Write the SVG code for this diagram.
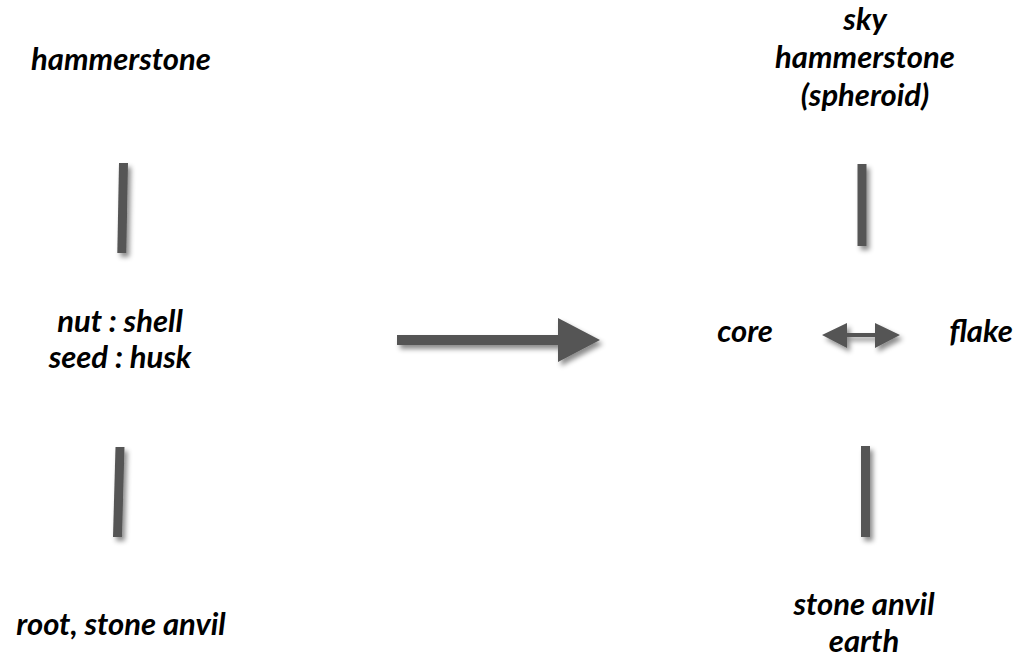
<svg xmlns="http://www.w3.org/2000/svg" width="1023" height="662" viewBox="0 0 1023 662">
  <style>
    .lbl { font-family: Lato, "Open Sans", "Liberation Sans", sans-serif; font-weight: bold; font-style: italic; font-size: 31px; fill: #000; text-anchor: middle; }
    .bar { stroke: #555555; stroke-width: 9; fill: none; }
    .shape { fill: #555555; }
  </style>
  <defs>
    <filter id="sh" x="-50%" y="-50%" width="200%" height="200%">
      <feDropShadow dx="3" dy="4" stdDeviation="2.5" flood-color="#000" flood-opacity="0.45"/>
    </filter>
  </defs>
  <rect width="1023" height="662" fill="#fff"/>

  <g id="node-hammerstone-left">
    <text class="lbl" x="121" y="70">hammerstone</text>
  </g>
  <g id="node-nut-shell">
    <text class="lbl" x="120" y="332">nut : shell</text>
    <text class="lbl" x="120" y="368">seed : husk</text>
  </g>
  <g id="node-root-anvil">
    <text class="lbl" x="121" y="635">root, stone anvil</text>
  </g>
  <g id="node-sky-hammerstone">
    <text class="lbl" x="865" y="30">sky</text>
    <text class="lbl" x="865" y="68">hammerstone</text>
    <text class="lbl" x="865" y="106">(spheroid)</text>
  </g>
  <g id="node-core">
    <text class="lbl" x="745" y="342">core</text>
  </g>
  <g id="node-flake">
    <text class="lbl" x="981" y="342">flake</text>
  </g>
  <g id="node-anvil-earth">
    <text class="lbl" x="864" y="615">stone anvil</text>
    <text class="lbl" x="864" y="652">earth</text>
  </g>

  <g id="connectors" filter="url(#sh)">
    <line class="bar" x1="123.5" y1="163" x2="121.8" y2="253"/>
    <line class="bar" x1="120" y1="447" x2="117.5" y2="537"/>
    <line class="bar" x1="862" y1="164" x2="862" y2="246"/>
    <line class="bar" x1="865.5" y1="446" x2="865.5" y2="537"/>
    <polygon class="shape" points="397,335 558,335 558,318 600,340 558,362 558,345 397,345"/>
    <polygon class="shape" points="822,335 847,323 847,333 875,333 875,323 900,335 875,348 875,337 847,337 847,348"/>
  </g>
</svg>
